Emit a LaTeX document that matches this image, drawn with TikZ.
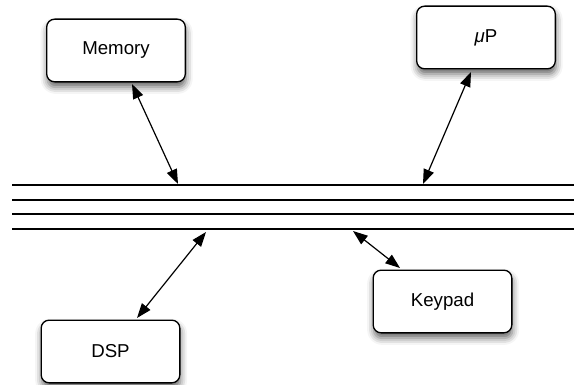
\documentclass[tikz,border=0pt]{standalone}
\usepackage{fontspec}
\setmainfont{Liberation Sans}
\usetikzlibrary{arrows.meta,shadows.blur}
\begin{document}
\begin{tikzpicture}[x=0.75pt,y=-0.75pt,
  unit/.style={draw=black,line width=1pt,fill=white,rounded corners=6pt,
    minimum width=104pt,minimum height=47pt,inner sep=0pt,
    font=\fontsize{14pt}{16pt}\selectfont,
    blur shadow={shadow xshift=0.5pt,shadow yshift=-4pt,shadow blur radius=5pt,shadow opacity=60}},
  busline/.style={line width=1.1pt,black},
  link/.style={line width=0.9pt,{Triangle[length=11pt,width=8pt]}-{Triangle[length=11pt,width=8pt]}}]
\useasboundingbox (0,0) rectangle (574,385);

% four-wire bus
\foreach \yy [count=\i] in {185,200,214,229}
  \draw[busline] (12,\yy) coordinate (bl\i) -- (574,\yy) coordinate (br\i);

% attached units
\node[unit] (mem) at (116,50.5) {Memory};
\node[unit] (up)  at (486,37.5) {{\itshape μ}P};
\node[unit] (dsp) at (110.5,351.5) {DSP};
\node[unit] (key) at (442.5,301.5) {Keypad};

% connection points
\coordinate (memE) at (132,84);
\coordinate (memB) at (178,184);
\coordinate (upE)  at (471,72);
\coordinate (upB)  at (423,184);
\coordinate (dspE) at (137,318);
\coordinate (dspB) at (206,232);
\coordinate (keyE) at (400,268);
\coordinate (keyB) at (353,231);

\draw[link] (memE) -- (memB);
\draw[link] (upE) -- (upB);
\draw[link] (dspE) -- (dspB);
\draw[link] (keyE) -- (keyB);
\end{tikzpicture}
\end{document}
